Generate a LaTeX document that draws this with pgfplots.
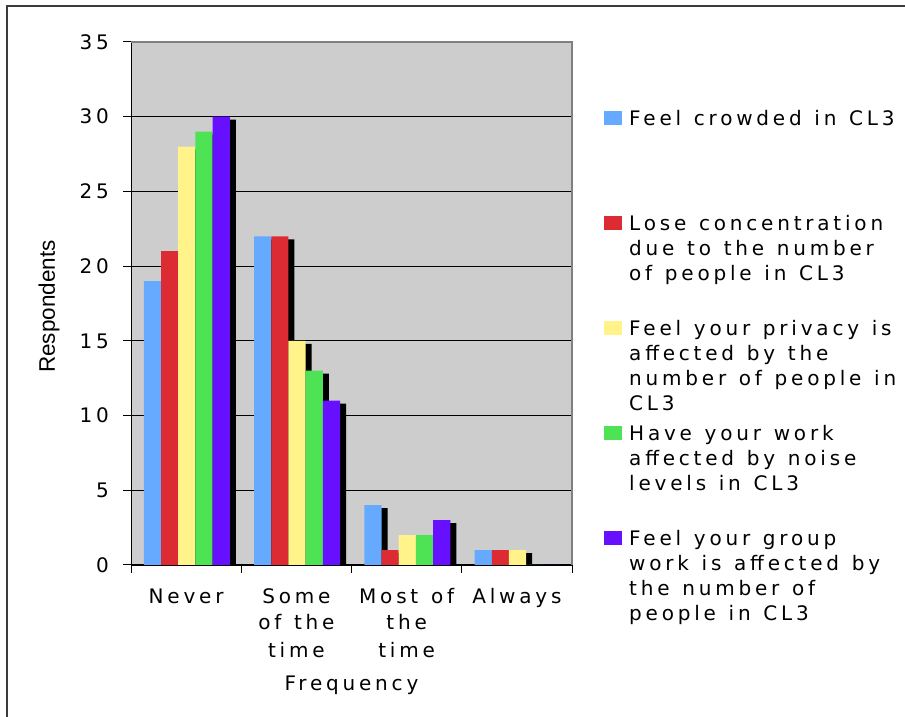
\documentclass[border=0pt]{standalone}
\usepackage{fontspec}
\setmainfont{DejaVu Sans}[LetterSpace=19, WordSpace=1.25]
\newfontfamily\ylabelfont{Liberation Sans}
\usepackage{pgfplots}
\pgfplotsset{compat=1.18}
\usepackage{pgfplotstable}

\definecolor{plotbg}{RGB}{205,205,205}
\definecolor{sBlue}{RGB}{102,170,255}
\definecolor{sRed}{RGB}{221,43,51}
\definecolor{sYellow}{RGB}{255,243,138}
\definecolor{sGreen}{RGB}{78,227,85}
\definecolor{sPurple}{RGB}{102,16,255}
\definecolor{frameline}{RGB}{60,60,60}

% respondents per answer; x: 0 Never, 1 Some of the time, 2 Most of the time, 3 Always
\pgfplotstableread{
x crowded concentration privacy noise group
0 19 21 28 29 30
1 22 22 15 13 11
2 4  1  2  2  3
3 1  1  1  0  0
}\survey

\pgfplotsset{
  surveybar/.style={ybar, bar width=17.2pt, draw=none,
    legend image code/.code={\fill[##1] (0pt,0pt) rectangle (18pt,14pt);}},
  shadowbar/.style={ybar, bar width=17.2pt, draw=none, fill=black,
    xshift=6pt, yshift=-3pt, forget plot},
}

\begin{document}
\begin{tikzpicture}[x=1pt,y=1pt]
\useasboundingbox (0,0) rectangle (905,717);
\fill[white] (0,0) rectangle (905,717);
\draw[frameline, line width=1.3pt] (7,-5) -- (7,711) -- (912,711);
\begin{axis}[
  scale only axis,
  width=441pt, height=523pt,
  at={(131pt,152pt)}, anchor=south west,
  xmin=-0.5, xmax=3.5, ymin=0, ymax=35,
  ytick={0,5,...,35},
  xtick={0,1,2,3},
  minor xtick={-0.5,0.5,1.5,2.5,3.5},
  xticklabels={
    {\parbox[t]{110pt}{\centering Never}},
    {\parbox[t]{110pt}{\centering Some\\of the\\time}},
    {\parbox[t]{110pt}{\centering Most of\\the\\time}},
    {\parbox[t]{110pt}{\centering Always}}},
  axis x line*=bottom, axis y line*=left,
  axis line style={black, line width=1pt},
  tick align=outside,
  major tick length=8pt, minor tick length=8pt,
  tick style={black, line width=1pt},
  major x tick style={draw=none},
  ymajorgrids, grid style={black, line width=0.8pt},
  axis background/.style={fill=plotbg},
  after end axis/.code={\draw[gray, line width=1.5pt] (rel axis cs:0,1) -- (rel axis cs:1,1) -- (rel axis cs:1,0);},
  /pgf/number format/assume math mode=true,
  ticklabel style={font=\fontsize{20}{27}\selectfont},
  yticklabel style={anchor=east, inner sep=0pt, xshift=-14pt},
  xticklabel style={anchor=base, inner sep=0pt, yshift=-30pt},
  xlabel={Frequency},
  xlabel style={at={(axis description cs:0.5,-0.2409)}, anchor=base, inner sep=0pt, font=\fontsize{20}{24}\selectfont},
  ylabel={Respondents},
  ylabel style={at={(axis description cs:-0.186,0.494)}, anchor=center, inner sep=0pt, font=\ylabelfont\fontsize{22.5}{27}\selectfont},
  legend style={at={(axis description cs:1.0726,0.870)}, anchor=north west,
    draw=none, fill=none, inner sep=0pt, row sep=0pt, column sep=7pt,
    font=\fontsize{20}{25}\selectfont,
    cells={anchor=base west},
    nodes={inner sep=0pt, text height=15pt, text depth=90pt}},
]
% drop shadows behind the bars
\addplot[shadowbar, bar shift=-33.7pt] table[x=x, y=crowded] {\survey};
\addplot[shadowbar, bar shift=-16.5pt] table[x=x, y=concentration] {\survey};
\addplot[shadowbar, bar shift=0.7pt] table[x=x, y=privacy] {\survey};
\addplot[shadowbar, bar shift=17.9pt] table[x=x, y=noise] {\survey};
\addplot[shadowbar, bar shift=35.1pt] table[x=x, y=group] {\survey};
% bars
\addplot[surveybar, fill=sBlue, bar shift=-33.7pt] table[x=x, y=crowded] {\survey};
\addlegendentry{\parbox[t]{290pt}{\raggedright Feel crowded in CL3}}
\addplot[surveybar, fill=sRed, bar shift=-16.5pt] table[x=x, y=concentration] {\survey};
\addlegendentry{\parbox[t]{290pt}{\raggedright Lose concentration\\due to the number\\of people in CL3}}
\addplot[surveybar, fill=sYellow, bar shift=0.7pt] table[x=x, y=privacy] {\survey};
\addlegendentry{\parbox[t]{290pt}{\raggedright Feel your privacy is\\affected by the\\number of people in\\CL3}}
\addplot[surveybar, fill=sGreen, bar shift=17.9pt] table[x=x, y=noise] {\survey};
\addlegendentry{\parbox[t]{290pt}{\raggedright Have your work\\affected by noise\\levels in CL3}}
\addplot[surveybar, fill=sPurple, bar shift=35.1pt] table[x=x, y=group] {\survey};
\addlegendentry{\parbox[t]{290pt}{\raggedright Feel your group\\work is affected by\\the number of\\people in CL3}}
\end{axis}
\end{tikzpicture}
\end{document}
